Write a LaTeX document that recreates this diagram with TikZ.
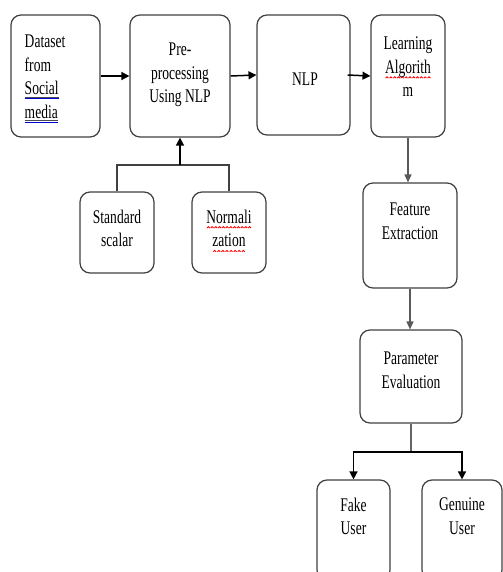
\documentclass[tikz,border=0pt]{standalone}
\usepackage{fontspec}
\setmainfont{Liberation Serif}[FakeStretch=0.7]
\usetikzlibrary{arrows.meta,positioning}
\newsavebox\wordbox
\newcommand\spellwave[1]{\sbox\wordbox{#1}\rlap{\lower2.8pt\hbox to\wd\wordbox{\xleaders\hbox{\tikz[baseline=0pt]\draw[red, line width=0.5pt] (0,0)--(0.8pt,0.8pt)--(1.6pt,0);}\hfil}}\usebox\wordbox}
\newcommand\linkline[1]{\sbox\wordbox{#1}\rlap{\color{black!70}\rule[-1.4pt]{\wd\wordbox}{0.4pt}}\rlap{\color{blue!85!black}\rule[-2.6pt]{\wd\wordbox}{0.8pt}}\usebox\wordbox}
\tikzset{
  stage/.style={draw=black!75, line width=0.7pt, rounded corners=0.2cm, fill=white},
  stagelabel/.style={inner sep=0pt, align=center, text=black, font=\fontsize{11}{13.5}\selectfont},
  link/.style={draw=black, line width=0.85pt, -{Triangle[length=4.5pt,width=4.5pt]}},
  linkthin/.style={draw=black!65, line width=0.6pt, -{Triangle[length=4.5pt,width=4pt]}},
}

\begin{document}
\begin{tikzpicture}[x=0.02cm, y=-0.02cm]
\useasboundingbox (0,0) rectangle (503,572);
\clip (0,0) rectangle (503,572);
% top row
\node[stage, minimum width=1.78cm, minimum height=2.44cm] (data) at (55.5,76) {};
\node[stage, minimum width=2.0cm, minimum height=2.44cm] (prep) at (180,76) {};
\node[stage, minimum width=1.86cm, minimum height=2.4cm] (nlp) at (303.5,75) {};
\node[stage, minimum width=1.48cm, minimum height=2.44cm] (learn) at (408,76) {};
% helpers under pre-processing
\node[stage, minimum width=1.48cm, minimum height=1.62cm] (scalar) at (117,232.5) {};
\node[stage, minimum width=1.48cm, minimum height=1.62cm] (norm) at (229,232.5) {};
% right column
\node[stage, minimum width=1.88cm, minimum height=2.1cm] (feat) at (410,235.5) {};
\node[stage, minimum width=2.04cm, minimum height=1.86cm] (param) at (411,376.5) {};
\node[stage, minimum width=1.46cm, minimum height=2.0cm] (fake) at (353.5,530) {};
\node[stage, minimum width=1.6cm, minimum height=2.0cm] (genuine) at (462,530) {};

% texts
\node[stagelabel, align=left, anchor=north west] (datat) at ([xshift=0.28cm, yshift=-0.4cm]data.north west) {Dataset\\from\\\linkline{Social}\\\linkline{media}};
\node[stagelabel, below=0.56cm of prep.north] (prept) {Pre-\\processing\\Using NLP};
\node[stagelabel] (nlpt) at ([xshift=0.03cm, yshift=-0.08cm]nlp.center) {NLP};
\node[stagelabel, below=0.44cm of learn.north] (learnt) {Learning\\\spellwave{Algorith}\\m};
\node[stagelabel, below=0.36cm of scalar.north] (scalart) {Standard\\scalar};
\node[stagelabel, below=0.36cm of norm.north] (normt) {\spellwave{Normali}\\\spellwave{zation}};
\node[stagelabel, below=0.4cm of feat.north] (featt) {Feature\\Extraction};
\node[stagelabel, below=0.44cm of param.north] (paramt) {Parameter\\Evaluation};
\node[stagelabel, below=0.36cm of fake.north] (faket) {Fake\\User};
\node[stagelabel, below=0.36cm of genuine.north] (genuinet) {Genuine\\User};

% connectors
\draw[link] (data.east) -- (prep.west);
\draw[link] (prep.east) -- (nlp.west);
\draw[link] ([xshift=-0.06cm]nlp.east) -- (learn.west);
\coordinate (merge) at (180,165);
\draw[draw=black!75, line width=0.6pt] (scalar.north) |- (merge) -| (norm.north);
\draw[link] (merge) -- (prep.south);
\draw[linkthin] (learn.south) -- (learn.south |- feat.north);
\draw[linkthin] (feat.south) -- (feat.south |- param.north);
\coordinate (split) at (411,452);
\draw[draw=black!60, line width=0.6pt] (param.south) -- (split);
\draw[link] (split) -| (fake.north);
\draw[link] (split) -| (genuine.north);
\end{tikzpicture}
\end{document}
